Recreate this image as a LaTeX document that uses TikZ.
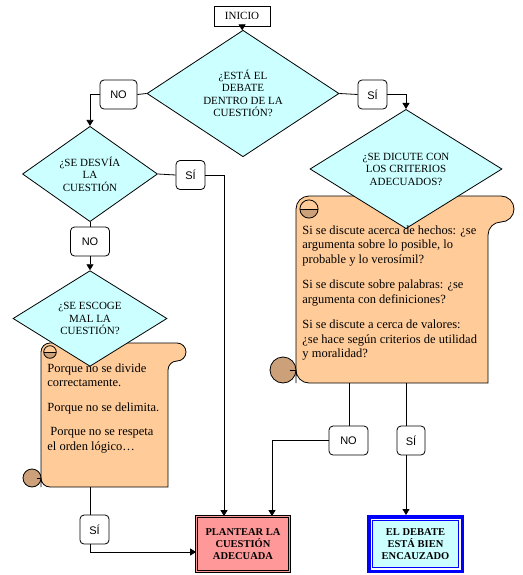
\documentclass[tikz,border=0pt]{standalone}
\usepackage{fontspec}
\setmainfont{Liberation Serif}
\newfontfamily\etiq{Liberation Sans}
\usepackage{tikz}
\usetikzlibrary{arrows.meta,shapes.geometric,calc}
\definecolor{RomboCian}{RGB}{204,255,255}
\definecolor{Pergamino}{RGB}{255,204,153}
\definecolor{Rollo}{RGB}{204,160,120}
\definecolor{Rosa}{RGB}{255,153,153}
\definecolor{AzulBorde}{RGB}{0,0,255}
% pergamino: izquierda, derecha, arriba, abajo, radio
\newcommand{\pergamino}[5]{%
  \filldraw[fill=Pergamino] (#1,#4) [rounded corners=#5pt] -- (#1,#3) -- ({#2+2*#5},#3)
    -- ({#2+2*#5},{#3+2*#5}) -- (#2,{#3+2*#5}) [sharp corners] -- (#2,#4)
    [rounded corners=#5pt] -- (#1,#4) [sharp corners] -- cycle;
  \begin{scope}
    \clip ({#1},{#3+#5}) rectangle ({#1+2*#5},{#3+2*#5});
    \fill[Rollo] ({#1+#5},{#3+#5}) circle[radius=0.7*#5pt];
  \end{scope}
  \draw ({#1+#5},{#3+#5}) circle[radius=0.7*#5pt];
  \draw ({#1+0.3*#5},{#3+#5}) -- ({#1+1.7*#5},{#3+#5});
  \filldraw[fill=Rollo] ({#1-#5},{#4-#5}) circle[radius=#5pt];
  \draw ({#1-0.5*#5},{#4-#5}) -- (#1,{#4-#5});
}

\begin{document}
\begin{tikzpicture}[x=1pt,y=-1pt,>={Triangle[width=7pt,length=6pt]},line width=0.8pt,
    rombo/.style={shape=diamond,draw,fill=RomboCian,inner sep=0pt,align=center,
      font=\fontsize{11}{12.5}\selectfont},
    etiqueta/.style={draw,fill=white,rounded corners=4pt,minimum width=29pt,
      minimum height=29pt,inner sep=1pt,font=\etiq\fontsize{11}{12}\selectfont},
    texto/.style={anchor=north west,align=left,inner sep=0pt,
      font=\fontsize{12.5}{14.5}\selectfont},
    final/.style={align=center,inner sep=0pt,font=\bfseries\fontsize{10.5}{12}\selectfont}]
  \useasboundingbox (0,0) rectangle (522,575);

  % pergaminos (debajo de los rombos)
  \pergamino{41}{168}{343}{487}{9}
  \pergamino{296}{488}{196}{383}{13}
  \coordinate (s1a) at (90,487);
  \coordinate (s2a) at (349,383);
  \coordinate (s2b) at (406,383);

  \node[draw,fill=white,minimum width=56pt,minimum height=20pt,inner sep=0pt,
    font=\fontsize{11}{12}\selectfont] (inicio) at (242,16) {INICIO};
  \node[rombo,minimum width=192pt,minimum height=113pt] (d1) at (243,93.5)
    {¿ESTÁ EL\\DEBATE\\DENTRO DE LA\\CUESTIÓN?};
  \node[rombo,minimum width=135pt,minimum height=84pt] (d2) at (90,174)
    {¿SE DESVÍA\\LA\\CUESTIÓN};
  \node[rombo,minimum width=192pt,minimum height=94pt] (d3) at (406,169)
    {¿SE DICUTE CON\\LOS CRITERIOS\\ADECUADOS?};
  \node[rombo,minimum width=154pt,minimum height=85pt] (d4) at (90,318.5)
    {¿SE ESCOGE\\MAL LA\\CUESTIÓN?};

  \node[texto] (t1) at (47,363) {Porque no se divide\\correctamente.\\[10pt]
    Porque no se delimita.\\[10pt]\hspace{3pt}Porque no se respeta\\el orden lógico…};
  \node[texto] (t2) at (302,225) {Si se discute acerca de hechos: ¿se\\
    argumenta sobre lo posible, lo\\probable y lo verosímil?\\[11pt]
    Si se discute sobre palabras: ¿se\\argumenta con definiciones?\\[11pt]
    Si se discute a cerca de valores:\\¿se hace según criterios de utilidad\\
    y moralidad?};

  \node[etiqueta,minimum width=37pt] (no1) at (118.5,94.5) {NO};
  \node[etiqueta] (si1) at (372.5,94.5) {SÍ};
  \node[etiqueta] (si2) at (190.5,175) {SÍ};
  \node[etiqueta,minimum width=39pt] (no2) at (90,241.5) {NO};
  \node[etiqueta] (si3) at (94.5,529.5) {SÍ};
  \node[etiqueta,minimum width=39pt] (no3) at (348.5,440.5) {NO};
  \node[etiqueta,minimum width=28pt] (si4) at (411,440.5) {SÍ};

  \node[final,draw,fill=Rosa,double=Rosa,double distance=1.6pt,
    minimum width=93pt,minimum height=55pt] (plan) at (243,544)
    {PLANTEAR LA\\CUESTIÓN\\ADECUADA};
  \node[final,draw=AzulBorde,line width=3.5pt,fill=white,
    minimum width=93.5pt,minimum height=54.5pt,
    path picture={\filldraw[AzulBorde,fill=RomboCian,line width=0.8pt]
      ([shift={(3.9pt,-3.9pt)}]path picture bounding box.north west) rectangle
      ([shift={(-3.9pt,3.9pt)}]path picture bounding box.south east);}] (enc) at (415.5,544)
    {EL DEBATE\\ESTÁ BIEN\\ENCAUZADO};

  % conectores
  \draw[->] (inicio) -- (d1);
  \draw (d1.west) -- (no1.east);
  \draw[->] (no1.west) -| (d2.north);
  \draw (d1.east) -- (si1.west);
  \draw[->] (si1.east) -| (d3.north);
  \draw (d2.east) -- (si2.west);
  \draw[->] (si2.east) -| ([xshift=-19pt]plan.north);
  \draw (d2.south) -- (no2.north);
  \draw[->] (no2.south) -- (d4.north);
  \draw (s1a) -- (s1a |- si3.north);
  \draw[->] (s1a |- si3.south) |- ([yshift=-8pt]plan.west);
  \draw (s2a) -- (s2a |- no3.north);
  \draw[->] (no3.west) -| ([xshift=29pt]plan.north);
  \draw (s2b) -- (s2b |- si4.north);
  \draw[->] (s2b |- si4.south) -- (s2b |- enc.north);
\end{tikzpicture}
\end{document}
